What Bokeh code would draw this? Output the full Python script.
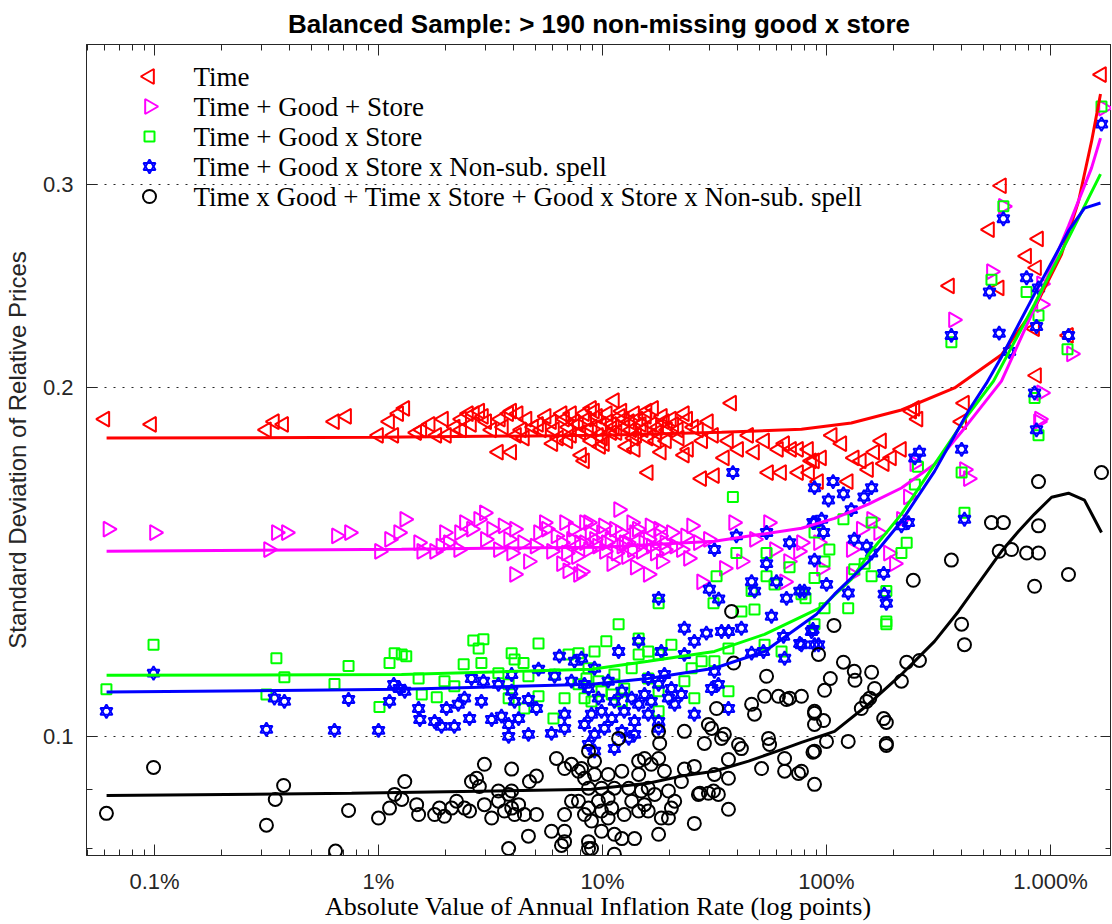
import math
from bokeh.plotting import figure
from bokeh.models import Range1d, FixedTicker, LogAxis, Label
from bokeh.embed import file_html
from bokeh.resources import INLINE

# ---------------- data (x in percent, y = std. dev. of relative prices) ----------------
red_x = [0.060, 0.097, 0.316, 0.343, 0.377, 0.636, 0.72, 1.0, 1.12, 1.23, 1.17, 1.31, 1.48, 1.56, 1.82, 1.95, 2.01,
         2.35, 2.35, 2.52, 2.68, 2.83, 2.94, 3.04, 3.20, 3.43, 3.61, 3.81, 3.93, 3.93, 4.13, 4.35, 4.48, 4.92, 5.18,
         5.92, 6.36, 6.77, 7.05, 7.27, 7.81, 8.06, 8.31, 8.66, 9.21, 9.90, 11.3, 11.3, 12.5, 13.5, 13.9, 14.9, 16.0,
         16.9, 17.8, 18.9, 20.3, 21.8, 23.2, 24.2, 26.8, 29.7, 31.3, 16.0, 18.3, 23.2, 27.7, 31.6, 35.0, 36.5, 37.7,
         40.5, 44.9, 47.7, 52.9, 55.1, 61.0, 65.0, 69.8, 75.0, 63.0, 75.0, 85.7, 92.1, 95.0, 8.31, 8.93, 9.59, 10.6,
         10.2, 83.1, 84.0, 88.4, 106, 117, 125, 133, 143, 154, 164, 176, 181, 195, 216, 240, 256, 248, 413, 401,
         1689, 604, 534, 354, 590, 884, 782, 866, 849, 1203, 866, 12.2, 15.7, 17.4, 8.93, 12.8, 14.2, 19.3, 11.0,
         7.27, 5.34, 5.6, 6.1, 6.6, 7.0, 7.5, 8.0, 8.5, 9.0, 9.5, 10.0, 10.5, 11.0, 11.6, 12.0, 12.6, 13.2, 13.8,
         14.4, 15.2, 15.8, 16.6, 17.5, 18.5, 19.5, 20.8, 22.0, 24.0, 25.5, 28.0, 4.6, 4.2, 3.5, 2.6, 2.2, 1.7, 6.0,
         9.8, 14.0]
red_y = [0.188, 0.186, 0.184, 0.187, 0.186, 0.187, 0.189, 0.182, 0.187, 0.190, 0.182, 0.192, 0.183, 0.184, 0.182,
         0.188, 0.182, 0.184, 0.188, 0.190, 0.190, 0.191, 0.189, 0.187, 0.184, 0.176, 0.185, 0.190, 0.191, 0.176,
         0.182, 0.184, 0.181, 0.185, 0.186, 0.187, 0.181, 0.188, 0.185, 0.190, 0.186, 0.175, 0.173, 0.184, 0.191,
         0.186, 0.195, 0.185, 0.188, 0.184, 0.190, 0.186, 0.181, 0.192, 0.185, 0.187, 0.188, 0.184, 0.190, 0.177,
         0.184, 0.187, 0.182, 0.169, 0.176, 0.175, 0.167, 0.168, 0.174, 0.180, 0.194, 0.177, 0.182, 0.176, 0.180,
         0.169, 0.177, 0.179, 0.177, 0.177, 0.169, 0.169, 0.173, 0.166, 0.174, 0.190, 0.192, 0.182, 0.187, 0.179,
         0.177, 0.169, 0.173, 0.182, 0.179, 0.166, 0.174, 0.173, 0.170, 0.176, 0.180, 0.172, 0.174, 0.177, 0.191,
         0.188, 0.192, 0.194, 0.187, 0.373, 0.299, 0.274, 0.245, 0.244, 0.269, 0.260, 0.254, 0.225, 0.222, 0.205,
         0.191, 0.189, 0.180, 0.180, 0.178, 0.182, 0.180, 0.183, 0.182, 0.184, 0.189, 0.184, 0.190, 0.180, 0.187,
         0.183, 0.188, 0.185, 0.189, 0.181, 0.190, 0.186, 0.183, 0.189, 0.185, 0.187, 0.181, 0.188, 0.184, 0.191,
         0.186, 0.183, 0.189, 0.184, 0.186, 0.181, 0.188, 0.185, 0.180, 0.188, 0.190, 0.188, 0.186, 0.185, 0.186,
         0.179, 0.178, 0.177]

mag_x = [0.062, 0.100, 0.323, 0.350, 0.388, 0.649, 0.742, 1.01, 1.12, 1.23, 1.31, 1.51, 1.56, 1.78, 1.97, 2.05, 2.28,
         2.42, 2.60, 2.80, 2.97, 3.20, 3.43, 3.81, 3.93, 4.05, 4.05, 4.67, 5.18, 5.92, 6.56, 6.77, 7.27, 7.81, 8.31,
         8.31, 8.66, 8.66, 9.21, 10.2, 11.3, 11.8, 12.5, 13.9, 14.9, 16.0, 17.8, 18.9, 20.3, 22.5, 24.2, 26.8, 29.7,
         8.06, 16.0, 27.7, 35.0, 38.5, 47.7, 55.1, 58.6, 67.7, 75.0, 65.0, 77.3, 92.1, 95.0, 129, 143, 159, 171, 189,
         201, 129, 216, 232, 248, 413, 430, 884, 912, 1725, 616, 545, 369, 912, 912, 1241, 893, 9.9, 12.2, 13.5,
         10.4, 16.5, 6.56, 5.62, 7.65, 12.8, 25.0, 18.3, 41.7, 5.0, 5.5, 6.2, 6.9, 7.4, 7.9, 8.8, 9.5, 10.1, 10.8,
         11.5, 12.0, 12.9, 13.6, 14.3, 15.3, 16.3, 17.2, 18.0, 19.0, 21.0, 23.5, 3.0, 3.6, 4.4, 2.3, 1.9, 7.0, 11.0,
         14.0]
mag_y = [0.151, 0.150, 0.145, 0.150, 0.150, 0.149, 0.150, 0.1445, 0.148, 0.150, 0.154, 0.147, 0.1445, 0.1445, 0.150,
         0.147, 0.145, 0.153, 0.151, 0.154, 0.156, 0.151, 0.145, 0.148, 0.144, 0.151, 0.138, 0.1416, 0.150, 0.1445,
         0.141, 0.153, 0.148, 0.138, 0.147, 0.153, 0.145, 0.153, 0.148, 0.1445, 0.151, 0.157, 0.147, 0.150, 0.1445,
         0.148, 0.151, 0.145, 0.150, 0.145, 0.1425, 0.147, 0.148, 0.1388, 0.138, 0.136, 0.1397, 0.153, 0.148, 0.153,
         0.145, 0.1416, 0.1445, 0.136, 0.147, 0.147, 0.1397, 0.145, 0.151, 0.154, 0.150, 0.144, 0.141, 0.138, 0.154,
         0.161, 0.172, 0.170, 0.167, 0.187, 0.198, 0.349, 0.287, 0.252, 0.229, 0.246, 0.236, 0.214, 0.188, 0.150,
         0.146, 0.153, 0.147, 0.146, 0.147, 0.151, 0.143, 0.143, 0.152, 0.1416, 0.1416, 0.146, 0.153, 0.149, 0.144,
         0.151, 0.147, 0.150, 0.146, 0.152, 0.148, 0.144, 0.150, 0.147, 0.145, 0.151, 0.147, 0.152, 0.144, 0.149,
         0.147, 0.146, 0.149, 0.148, 0.152, 0.147, 0.150, 0.146, 0.139, 0.141, 0.140]

grn_x = [0.061, 0.099, 0.316, 0.350, 0.380, 0.636, 0.735, 1.01, 1.12, 1.18, 1.27, 1.33, 1.51, 1.56, 1.82, 1.97, 2.18,
         2.40, 2.65, 2.80, 2.94, 2.88, 3.43, 3.81, 3.93, 4.05, 4.44, 4.67, 5.18, 5.18, 6.04, 6.11, 7.05, 7.81, 6.77,
         7.81, 8.31, 8.48, 4.48, 3.81, 9.21, 10.4, 11.8, 14.5, 14.5, 16.0, 17.8, 20.3, 17.8, 17.8, 23.2, 25.7, 25.0,
         27.7, 31.6, 36.5, 36.5, 47.7, 41.7, 52.9, 63.0, 88.4, 8.66, 9.59, 11.3, 13.5, 12.5, 11.0, 8.93, 16.0, 38.2,
         39.6, 54.0, 54.0, 68.4, 32.3, 88.4, 46.3, 58.6, 77.3, 31.3, 17.8, 88.4, 103, 98, 119, 133, 159, 148, 159,
         248, 256, 228, 216, 185, 125, 80.6, 401, 413, 884, 185, 185, 98, 1689, 616, 545, 361, 782, 884, 1191, 849,
         12.2, 9.9]
grn_y = [0.1098, 0.120, 0.1087, 0.1168, 0.1125, 0.111, 0.115, 0.106, 0.1157, 0.118, 0.1177, 0.1173, 0.1122, 0.1087,
         0.1081, 0.1116, 0.1105, 0.1154, 0.121, 0.1191, 0.1213, 0.1157, 0.1134, 0.1109, 0.118, 0.1165, 0.1157, 0.1127,
         0.1203, 0.1083, 0.1036, 0.1131, 0.1177, 0.118, 0.1079, 0.1109, 0.1079, 0.1122, 0.1057, 0.1079, 0.1184,
         0.1208, 0.125, 0.1215, 0.1177, 0.1184, 0.1177, 0.120, 0.1094, 0.1051, 0.1116, 0.1079, 0.1145, 0.1161,
         0.1161, 0.1191, 0.1094, 0.1287, 0.1282, 0.120, 0.1184, 0.125, 0.1145, 0.1116, 0.1131, 0.1145, 0.110, 0.1087,
         0.1072, 0.1122, 0.161, 0.144, 0.144, 0.1375, 0.140, 0.1375, 0.137, 0.1335, 0.1353, 0.1327, 0.1303, 0.1303,
         0.150, 0.145, 0.1416, 0.154, 0.1394, 0.153, 0.141, 0.1375, 0.165, 0.171, 0.147, 0.144, 0.1335, 0.129, 0.1316,
         0.169, 0.156, 0.182, 0.1257, 0.125, 0.129, 0.350, 0.287, 0.248, 0.219, 0.242, 0.231, 0.216, 0.196, 0.1072,
         0.1094]

blu_x = [0.061, 0.099, 0.316, 0.343, 0.380, 0.636, 0.735, 1.0, 1.12, 1.17, 1.24, 1.31, 1.51, 1.53, 1.78, 1.91, 2.01,
         2.18, 2.27, 2.42, 2.55, 2.60, 2.88, 2.94, 3.20, 3.43, 3.54, 3.81, 3.81, 3.93, 3.93, 4.05, 4.22, 4.67, 4.67,
         5.07, 5.18, 5.92, 6.11, 6.42, 6.77, 6.77, 7.27, 7.50, 8.06, 8.31, 8.66, 8.31, 9.21, 8.66, 9.59, 10.6, 11.3,
         12.2, 9.90, 8.93, 11.0, 12.5, 13.5, 14.5, 15.4, 13.9, 10.2, 12.2, 9.21, 13.1, 13.9, 11.3, 9.21, 16.0, 16.5,
         17.8, 17.8, 19.7, 21.0, 22.5, 20.3, 18.9, 16.0, 11.8, 14.5, 18.3, 23.2, 23.2, 25.7, 25.7, 29.1, 31.6, 30.7,
         32.9, 34.0, 36.5, 36.5, 41.7, 46.3, 52.3, 56.8, 64.3, 65.0, 76.0, 85.7, 92.1, 17.8, 38.2, 31.6, 39.6, 54.0,
         54.0, 68.4, 88.4, 88.4, 46.3, 47.7, 59.8, 66.3, 76.0, 30.0, 33.0, 17.8, 88.4, 107, 119, 102, 129, 147, 159,
         95, 87, 97, 133, 151, 159, 100, 79.6, 125, 180, 181, 185, 216, 232, 248, 260, 401, 413, 866, 849, 87, 88.4,
         77.3, 1689, 616, 534, 361, 782, 884, 866, 1203, 656, 590]
blu_y = [0.1051, 0.1134, 0.1014, 0.1079, 0.1072, 0.1012, 0.1076, 0.1012, 0.1072, 0.1109, 0.110, 0.1094, 0.1057,
         0.1034, 0.103, 0.102, 0.1057, 0.102, 0.1066, 0.1079, 0.1036, 0.1122, 0.1072, 0.1116, 0.1034, 0.1109, 0.1041,
         0.1024, 0.100, 0.1131, 0.1094, 0.1072, 0.1036, 0.1004, 0.1076, 0.1057, 0.1143, 0.1006, 0.1127, 0.1173,
         0.1045, 0.1016, 0.1116, 0.1161, 0.1168, 0.1024, 0.0984, 0.1109, 0.1145, 0.110, 0.1079, 0.1116, 0.1072,
         0.1094, 0.1051, 0.1045, 0.1036, 0.1051, 0.1079, 0.1066, 0.1087, 0.103, 0.1016, 0.101, 0.1004, 0.0996, 0.1004,
         0.0976, 0.0971, 0.1045, 0.1072, 0.103, 0.1109, 0.1079, 0.1066, 0.1087, 0.110, 0.1131, 0.1122, 0.1184, 0.1208,
         0.1184, 0.124, 0.1177, 0.1208, 0.1045, 0.1228, 0.1138, 0.110, 0.1109, 0.1232, 0.1232, 0.1057, 0.124, 0.118,
         0.1184, 0.127, 0.122, 0.1168, 0.1203, 0.1232, 0.120, 0.1016, 0.169, 0.145, 0.149, 0.150, 0.141, 0.147, 0.153,
         0.142, 0.136, 0.1335, 0.136, 0.1316, 0.1335, 0.134, 0.1314, 0.1316, 0.164, 0.166, 0.162, 0.160, 0.157, 0.161,
         0.164, 0.154, 0.153, 0.150, 0.148, 0.146, 0.144, 0.1353, 0.1335, 0.133, 0.1383, 0.1327, 0.1303, 0.152, 0.153,
         0.174, 0.176, 0.177, 0.154, 0.184, 0.198, 0.1237, 0.120, 0.120, 0.338, 0.280, 0.242, 0.222, 0.249, 0.244,
         0.226, 0.222, 0.215, 0.223]

blk_x = [0.061, 0.099, 0.316, 0.346, 0.377, 0.643, 0.735, 1.0, 1.12, 1.18, 1.27, 1.31, 1.48, 1.51, 1.78, 1.87, 1.97,
         2.12, 2.23, 2.42, 2.55, 2.60, 2.74, 2.82, 2.97, 2.97, 3.20, 3.43, 3.43, 3.65, 3.81, 3.93, 3.93, 3.93, 4.05,
         4.22, 4.48, 4.67, 4.72, 5.07, 5.07, 3.81, 5.92, 6.23, 6.77, 6.77, 6.77, 6.77, 7.27, 7.27, 7.81, 7.81, 8.31,
         8.31, 8.66, 6.56, 37.7, 38.5, 11.8, 17.8, 18.0, 23.2, 29.7, 32.3, 30.7, 35.0, 34.0, 28.5, 40.5, 41.7, 55.1,
         55.7, 54.0, 46.3, 47.7, 52.9, 61.0, 66.3, 68.4, 77.3, 88.4, 88.4, 92.1, 65.0, 65.0, 75.0, 88.4, 88.4, 51.3,
         36.5, 36.5, 31.6, 31.3, 32.9, 29.7, 26.8, 25.7, 23.2, 22.5, 18.9, 17.8, 15.4, 14.5, 16.5, 14.5, 16.0, 12.2,
         10.6, 9.21, 8.66, 9.21, 8.06, 8.66, 9.90, 11.3, 13.1, 14.9, 17.1, 19.7, 21.0, 20.3, 18.3, 15.4, 14.5, 13.5,
         12.5, 11.0, 9.90, 8.66, 8.93, 9.90, 11.3, 12.2, 13.9, 17.8, 10.6, 8.66, 8.93, 11.3, 25.7, 36.5, 19.7, 16.0,
         27.2, 10.6, 9.59, 1689, 884, 545, 616, 884, 590, 670, 782, 884, 361, 244, 1203, 849, 108, 401, 413, 119, 133,
         134, 159, 104, 98, 164, 156, 151, 143, 216, 228, 260, 88.4, 97, 180, 185, 100, 125, 185, 185, 87, 77.3]
blk_y = [0.0858, 0.094, 0.0838, 0.0882, 0.0907, 0.0796, 0.0863, 0.085, 0.0867, 0.0891, 0.0882, 0.0914, 0.0873,
         0.0856, 0.0856, 0.0867, 0.0853, 0.0867, 0.0879, 0.0867, 0.0862, 0.0914, 0.092, 0.0905, 0.0946, 0.0873, 0.085,
         0.0897, 0.0879, 0.0862, 0.0891, 0.0937, 0.0897, 0.0867, 0.0856, 0.0873, 0.0856, 0.082, 0.0914, 0.0924,
         0.0856, 0.080, 0.0828, 0.0957, 0.0938, 0.0856, 0.0828, 0.0811, 0.0946, 0.0879, 0.0933, 0.0879, 0.0856, 0.092,
         0.080, 0.0805, 0.1282, 0.1157, 0.0996, 0.101, 0.0986, 0.101, 0.1024, 0.1057, 0.1016, 0.1004, 0.0996, 0.0986,
         0.0984, 0.0976, 0.0996, 0.0984, 0.1127, 0.1066, 0.1045, 0.1083, 0.1083, 0.1076, 0.1079, 0.1083, 0.1051,
         0.1024, 0.1177, 0.0957, 0.0933, 0.0929, 0.0971, 0.0909, 0.0938, 0.0955, 0.092, 0.0927, 0.0897, 0.0891, 0.0893,
         0.0891, 0.0942, 0.0937, 0.0914, 0.0933, 0.0957, 0.0957, 0.0952, 0.0946, 0.0927, 0.0902, 0.0933, 0.0927,
         0.0952, 0.0971, 0.0927, 0.0938, 0.0902, 0.0902, 0.0902, 0.0902, 0.0897, 0.0891, 0.0897, 0.0879, 0.0867,
         0.085, 0.0873, 0.0862, 0.0879, 0.0856, 0.0867, 0.0862, 0.0867, 0.0845, 0.0828, 0.0823, 0.0816, 0.0816,
         0.0823, 0.085, 0.0811, 0.080, 0.0791, 0.0841, 0.0865, 0.085, 0.0862, 0.0893, 0.0884, 0.0879, 0.169, 0.166,
         0.153, 0.153, 0.152, 0.1445, 0.145, 0.144, 0.144, 0.142, 0.1364, 0.138, 0.1348, 0.1247, 0.125, 0.120, 0.1159,
         0.1138, 0.1118, 0.1136, 0.1122, 0.1096, 0.110, 0.1079, 0.1072, 0.1057, 0.1116, 0.1159, 0.1163, 0.1047,
         0.1032, 0.1036, 0.1028, 0.099, 0.099, 0.0986, 0.0982, 0.0969, 0.0933]

# fitted curves
red_fit_x = [0.0611, 1.0, 9.9, 34.0, 77.3, 129, 216, 373, 604, 848, 1119, 1334, 1524, 1672]
red_fit_y = [0.181, 0.1813, 0.182, 0.1831, 0.1842, 0.1865, 0.1914, 0.200, 0.2136, 0.2343, 0.2608, 0.2899, 0.3264, 0.3588]
mag_fit_x = [0.0611, 1.267, 9.9, 31.6, 77.3, 108.6, 154, 216, 303.5, 413, 604, 848, 1203, 1524, 1672]
mag_fit_y = [0.1445, 0.1451, 0.1457, 0.1474, 0.1513, 0.1543, 0.1587, 0.1639, 0.1718, 0.1846, 0.2027, 0.2344, 0.2759, 0.3097, 0.3287]
grn_fit_x = [0.0611, 1.267, 8.93, 16.0, 31.6, 52.9, 95.0, 129.3, 154, 216, 303.5, 430, 556.6, 848, 1203, 1672]
grn_fit_y = [0.1129, 0.1131, 0.1143, 0.1161, 0.1184, 0.1225, 0.1293, 0.1367, 0.1436, 0.1556, 0.1718, 0.1898, 0.2027, 0.2362, 0.2694, 0.3060]
blu_fit_x = [0.0611, 1.267, 8.93, 16.0, 31.6, 52.9, 90.2, 108.6, 154, 216, 303.5, 430, 518, 604, 848, 1203, 1418, 1672]
blu_fit_y = [0.1092, 0.1098, 0.1109, 0.1122, 0.1145, 0.1184, 0.1275, 0.1327, 0.1416, 0.1534, 0.1694, 0.1910, 0.2019, 0.2127, 0.241, 0.2733, 0.286, 0.2889]
blk_fit_x = [0.0611, 0.758, 8.93, 16.0, 22.5, 31.6, 44.9, 63.0, 77.3, 108.6, 154, 216, 303.5, 388, 492, 604, 720, 848, 1011, 1203, 1418, 1689]
blk_fit_y = [0.0889, 0.0893, 0.0900, 0.0911, 0.0924, 0.0933, 0.0952, 0.0974, 0.0988, 0.101, 0.1066, 0.1131, 0.1208, 0.1282, 0.1367, 0.1445, 0.1504, 0.1556, 0.1609, 0.1622, 0.160, 0.150]

legend_labels = ["Time", "Time + Good + Store", "Time + Good x Store",
                 "Time + Good x Store x Non-sub. spell",
                 "Time x Good + Time x Store + Good x Store x Non-sub. spell"]
x_major = [0.1, 1, 10, 100, 1000]
x_labels = ["0.1%", "1%", "10%", "100%", "1.000%"]
y_major = [0.1, 0.2, 0.3]
y_labels = ["0.1", "0.2", "0.3"]
y_minor = [0.08, 0.09, 0.1, 0.2, 0.3]

# ---------------- figure ----------------
AX = "#262626"
X0, X1 = 0.0497, 1872.0
Y0, Y1 = 0.0789, 0.396
FW, FH = 1025, 811
p = figure(frame_width=FW, frame_height=FH, x_axis_type="log", y_axis_type="log",
           x_range=Range1d(X0, X1), y_range=Range1d(Y0, Y1),
           output_backend="svg", toolbar_location=None,
           min_border_left=0, min_border_right=0, min_border_top=0, min_border_bottom=0,
           title="Balanced Sample: > 190 non-missing good x store")
p.title.text_font = "Liberation Sans"
p.title.text_font_size = "26px"
p.title.text_font_style = "bold"
p.title.align = "center"
p.title.text_color = "black"
p.title.standoff = 12
p.outline_line_color = AX
p.background_fill_color = "white"

x_minor = [m * 10.0 ** k for k in range(-2, 4) for m in range(1, 10)]

def style(ax, labels=True):
    ax.axis_line_color = AX
    ax.major_tick_line_color = AX
    ax.minor_tick_line_color = AX
    ax.major_tick_in = 11
    ax.major_tick_out = 0
    ax.minor_tick_in = 6
    ax.minor_tick_out = 0
    ax.major_label_text_color = AX
    ax.major_label_text_font = "Liberation Sans"
    if labels:
        ax.major_label_text_font_size = "22px"
    else:
        ax.major_label_text_font_size = "2px"
        ax.major_label_text_alpha = 0
        ax.major_label_standoff = 0

xa = p.xaxis[0]
xa.ticker = FixedTicker(ticks=x_major, minor_ticks=x_minor)
xa.major_label_overrides = {v: s for v, s in zip(x_major, x_labels)}
style(xa)
xa.major_label_standoff = 13
xa.axis_label = "Absolute Value of Annual Inflation Rate (log points)"
xa.axis_label_text_font = "Liberation Serif"
xa.axis_label_text_font_style = "normal"
xa.axis_label_text_font_size = "26px"
xa.axis_label_text_color = "black"
xa.axis_label_standoff = -5

ya = p.yaxis[0]
ya.ticker = FixedTicker(ticks=y_major, minor_ticks=y_minor)
ya.major_label_overrides = {v: s for v, s in zip(y_major, y_labels)}
style(ya)
ya.major_label_standoff = 13
ya.axis_label = "Standard Deviation of Relative Prices"
ya.axis_label_text_font = "Liberation Sans"
ya.axis_label_text_font_style = "normal"
ya.axis_label_text_font_size = "24px"
ya.axis_label_text_color = AX
ya.axis_label_standoff = 9

top_ax = LogAxis(ticker=FixedTicker(ticks=x_major, minor_ticks=x_minor))
style(top_ax, labels=False)
top_ax.major_label_overrides = {v: "" for v in x_major}
p.add_layout(top_ax, "above")
right_ax = LogAxis(ticker=FixedTicker(ticks=y_major, minor_ticks=y_minor))
style(right_ax, labels=False)
right_ax.major_label_overrides = {v: "" for v in y_major}
p.add_layout(right_ax, "right")

p.xgrid.visible = False
p.ygrid.grid_line_color = AX
p.ygrid.grid_line_dash = "2 7"
p.ygrid.grid_line_width = 1

# ---------------- scatter ----------------
STY = [
    dict(marker="triangle", angle=math.pi / 2, size=15, line_color="#ff0000"),
    dict(marker="triangle", angle=-math.pi / 2, size=15, line_color="#ff00ff"),
    dict(marker="square", size=10, line_color="#00ff00"),
    dict(marker="triangle", size=12, line_color="#0000ff"),
    dict(marker="inverted_triangle", size=12, line_color="#0000ff"),
    dict(marker="circle", size=13, line_color="#000000"),
]
series = [(red_x, red_y), (mag_x, mag_y), (grn_x, grn_y), (blu_x, blu_y), (blu_x, blu_y), (blk_x, blk_y)]
for (sx, sy), st in zip(series, STY):
    p.scatter(sx, sy, fill_color=None, line_width=2, **st)

# ---------------- fitted lines ----------------
p.line(red_fit_x, red_fit_y, line_color="#ff0000", line_width=3)
p.line(mag_fit_x, mag_fit_y, line_color="#ff00ff", line_width=3)
p.line(grn_fit_x, grn_fit_y, line_color="#00ff00", line_width=3)
p.line(blu_fit_x, blu_fit_y, line_color="#0000ff", line_width=3)
p.line(blk_fit_x, blk_fit_y, line_color="#000000", line_width=3)

# ---------------- legend (markers placed via the axis scales, from pixel offsets in the frame) ----------------
xdec = math.log10(X1 / X0) / FW
ydec = math.log10(Y1 / Y0) / FH
def fx(px):
    return X0 * 10 ** (px * xdec)
def fy(py):
    return Y1 / 10 ** (py * ydec)

row_y = [fy(32 + 30 * i) for i in range(5)]
mark_x = fx(63)
text_x = fx(107)
leg_idx = [[0], [1], [2], [3, 4], [5]]
for i, idxs in enumerate(leg_idx):
    for k in idxs:
        p.scatter([mark_x], [row_y[i]], fill_color=None, line_width=2, **STY[k])
    p.add_layout(Label(x=text_x, y=row_y[i], text=legend_labels[i], text_baseline="middle",
                       text_align="left", text_font="Liberation Serif", text_font_size="27px",
                       text_color="black"))

open("out.html", "w").write(file_html(p, INLINE))
